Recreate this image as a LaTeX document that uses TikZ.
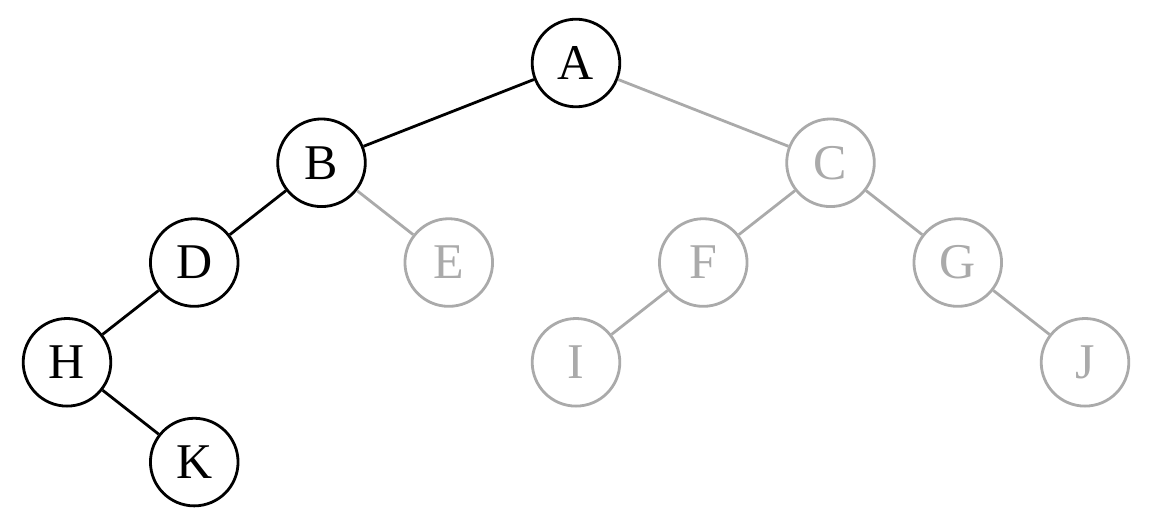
\documentclass[tikz,border=0pt]{standalone}
\usepackage{fontspec}
\setmainfont{Liberation Serif}
\usetikzlibrary{positioning}
\definecolor{faded}{RGB}{170,170,170}
\tikzset{vtx/.style={draw, circle, line width=0.7pt, minimum size=21.9pt, inner sep=0pt,
    font=\fontsize{12.5}{14}\selectfont},
  off/.style={vtx, draw=faded, text=faded},
  lnk/.style={line width=0.7pt},
  offlnk/.style={lnk, draw=faded}}

\begin{document}
\begin{tikzpicture}[x=31.81pt, y=24.94pt]
  \useasboundingbox (-0.5265,0.6316) rectangle (8.5265,-4.6316);
  % visited path
  \node[vtx] (a) at (4,0) {A};
  \node[vtx] (b) at (2,-1) {B};
  \node[vtx] (d) at (1,-2) {D};
  \node[vtx] (h) at (0,-3) {H};
  \node[vtx] (k) at (1,-4) {K};
  % rest of the tree
  \node[off] (c) at (6,-1) {C};
  \node[off] (e) at (3,-2) {E};
  \node[off] (f) at (5,-2) {F};
  \node[off] (g) at (7,-2) {G};
  \node[off] (i) at (4,-3) {I};
  \node[off] (j) at (8,-3) {J};
  % edges
  \draw[lnk] (a) -- (b) (b) -- (d) (d) -- (h) (h) -- (k);
  \draw[offlnk] (a) -- (c) (b) -- (e) (c) -- (f) (c) -- (g) (f) -- (i) (g) -- (j);
\end{tikzpicture}
\end{document}
